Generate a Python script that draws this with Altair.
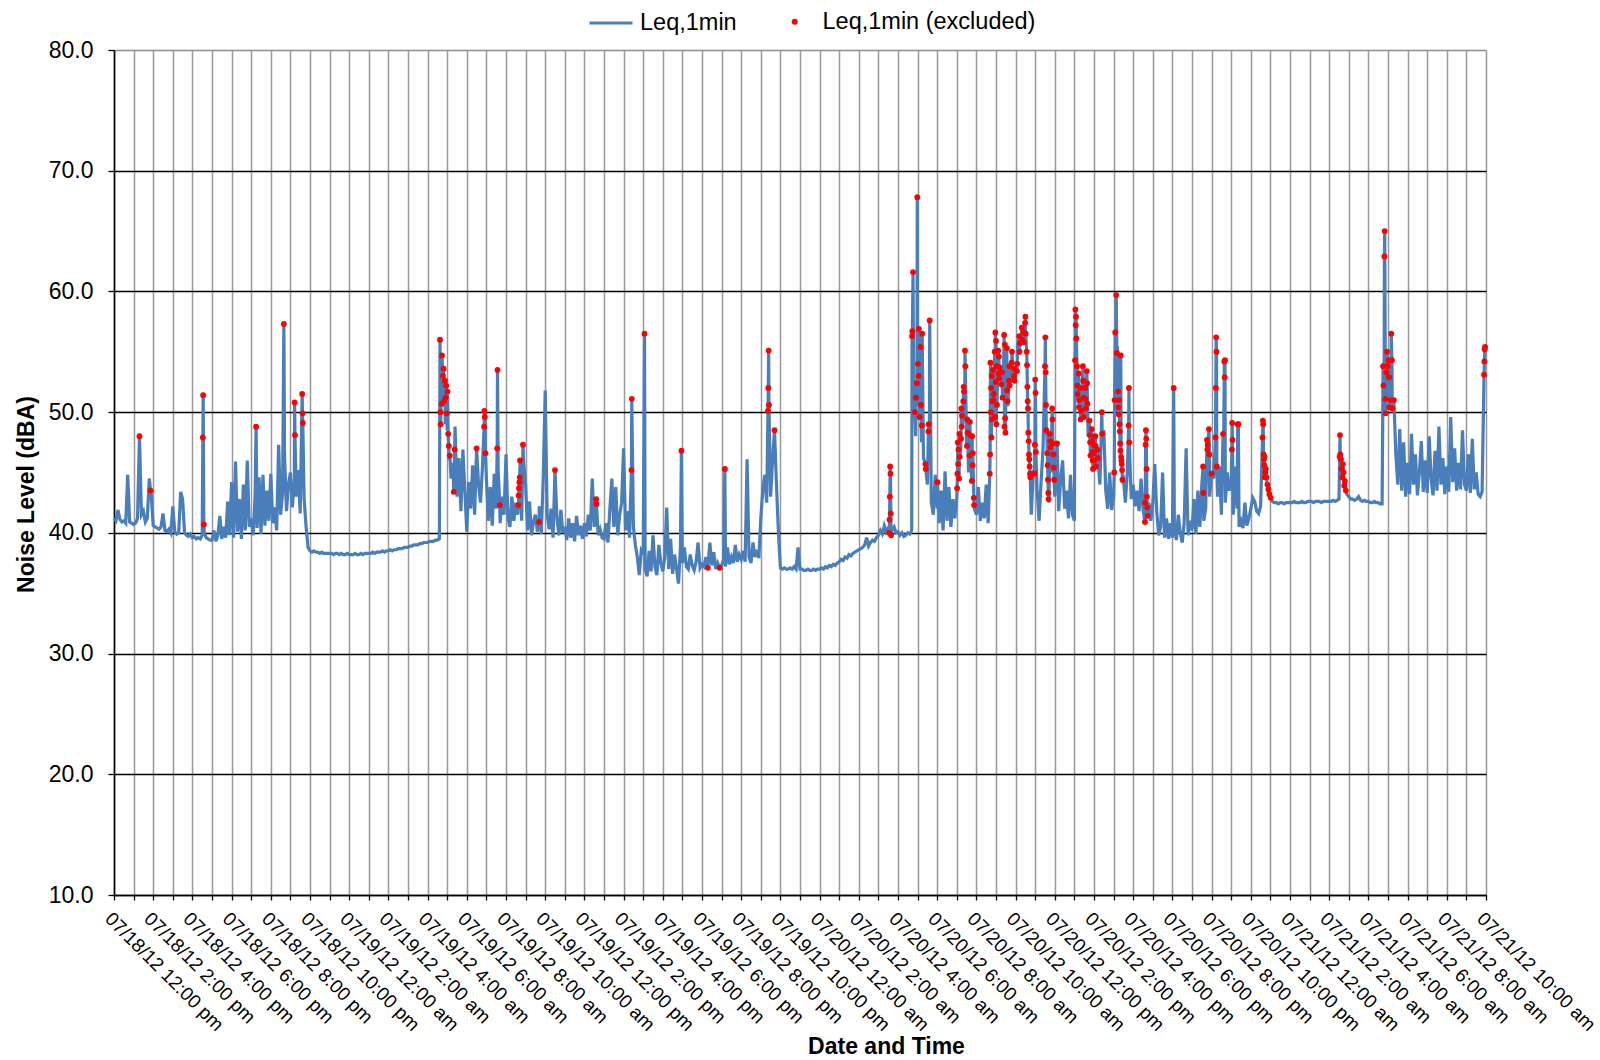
import altair as alt
import pandas as pd
from datetime import datetime, timedelta

FONT = "Liberation Sans"
LINE_BLUE = "#4a7ebb"
DOT_RED = "#ff0000"

# Leq,1min readings, one value every 6 minutes starting 07/18/12 12:00 pm
# (one row per hour)
STEP_MIN = 6

LEQ_0718 = [
    41.2, 41.0, 41.9, 41.1, 40.9, 41.0, 40.8, 44.8, 40.9, 40.8,
    40.7, 40.8, 41.2, 40.6, 41.5, 41.8, 40.9, 41.2, 44.5, 43.2,
    40.6, 40.5, 40.4, 40.3, 40.5, 41.6, 40.2, 40.1, 40.3, 40.0,
    42.2, 40.1, 39.9, 40.0, 43.4, 42.8, 40.0, 39.8, 39.7, 39.9,
    39.6, 39.7, 39.5, 39.6, 39.5, 39.8, 40.1, 39.6, 39.5, 39.4,
    39.4, 40.2, 39.3, 39.8, 41.4, 39.5, 40.5, 39.6, 42.6, 39.8,
    44.2, 39.6, 45.9, 40.1, 42.8, 39.5, 44.0, 40.2, 46.0, 40.5,
    41.2, 39.8, 43.1, 40.4, 44.6, 39.9, 44.8, 40.6, 43.5, 41.0,
    44.9, 40.8, 42.1, 40.2, 47.3, 41.5, 43.2, 46.5, 41.8, 44.0,
    45.0, 42.1, 44.3, 43.0, 45.2, 41.6, 46.7, 42.8, 40.5, 38.8,
    38.5, 38.4, 38.5, 38.4, 38.4, 38.3, 38.4, 38.3, 38.3, 38.3,
    38.3, 38.3, 38.2, 38.3, 38.3, 38.2, 38.3, 38.2, 38.2, 38.3,
]

LEQ_0719 = [
    38.2, 38.2, 38.2, 38.3, 38.2, 38.2, 38.3, 38.2, 38.3, 38.3,
    38.3, 38.3, 38.4, 38.3, 38.4, 38.4, 38.4, 38.5, 38.4, 38.5,
    38.5, 38.6, 38.5, 38.6, 38.6, 38.7, 38.7, 38.7, 38.8, 38.8,
    38.8, 38.9, 38.9, 39.0, 39.0, 39.0, 39.1, 39.1, 39.2, 39.2,
    39.2, 39.3, 39.3, 39.3, 39.4, 39.4, 39.5, 52.0, 50.5, 49.0,
    48.5, 46.0, 44.5, 45.8, 48.8, 43.0, 46.2, 41.8, 46.9, 43.5,
    40.1, 44.2, 42.0, 45.6, 41.5, 42.8, 44.0, 42.5, 45.5, 47.8,
    44.5, 41.0, 43.8, 40.6, 44.9, 42.0, 45.2, 40.8, 43.0, 41.5,
    46.5, 41.2, 40.5, 43.0, 41.0, 42.5, 41.5, 44.2, 41.0, 45.8,
    44.0, 40.2, 42.6, 39.8, 40.9, 41.5, 40.1, 42.2, 39.9, 44.5,
    51.8, 41.5, 40.3, 42.0, 39.6, 40.8, 41.2, 39.8, 41.9, 40.0,
    40.5, 39.4, 41.2, 39.6, 40.8, 39.3, 41.4, 39.8, 40.6, 39.5,
    40.8, 39.7, 41.5, 40.2, 44.5, 40.5, 41.0, 39.8, 40.3, 39.6,
    39.5, 40.8, 39.2, 42.0, 44.5, 40.5, 43.8, 39.8, 41.5, 42.5,
    47.0, 40.2, 41.8, 39.6, 43.0, 40.5, 39.0, 38.0, 36.5, 38.5,
    38.2, 37.0, 36.4, 38.5, 36.8, 39.8, 37.2, 36.5, 39.0, 37.5,
    36.8, 38.0, 42.1, 37.0, 39.5, 36.6, 38.2, 37.0, 35.8, 38.8,
    37.5, 38.8, 37.2, 37.0, 38.2, 37.3, 36.9, 37.6, 39.2, 37.1,
    37.4, 37.2, 38.0, 37.1, 39.2, 37.3, 38.4, 37.0, 37.5, 37.2,
    37.3, 37.8, 37.2, 38.8, 37.4, 38.0, 37.5, 39.0, 37.6, 38.2,
    37.8, 38.5, 37.6, 46.1, 38.0, 37.5, 39.2, 38.0, 38.6, 37.9,
    41.2, 43.5, 44.8, 42.5, 45.5, 43.0, 46.0, 44.2, 44.0, 40.0,
    37.1, 37.0, 37.1, 37.0, 37.0, 37.1, 37.0, 37.2, 37.0, 38.8,
    37.0, 37.0, 36.9, 36.9, 37.0, 36.9, 36.9, 37.0, 36.9, 37.0,
]

LEQ_0720 = [
    37.0, 37.1, 37.0, 37.2, 37.1, 37.3, 37.2, 37.4, 37.3, 37.5,
    37.6, 37.8, 37.7, 38.0, 37.9, 38.2, 38.1, 38.3, 38.4, 38.5,
    38.6, 38.7, 38.8, 39.0, 39.6, 38.9, 39.2, 39.4, 39.3, 39.6,
    39.8, 40.2, 39.9, 40.6, 40.1, 40.4, 40.0, 40.3, 40.5, 40.0,
    40.1, 39.8, 40.0, 39.7, 39.8, 40.0, 39.9, 40.2, 50.5, 48.0,
    50.5, 50.0, 47.5, 46.2, 45.0, 44.0, 46.0, 42.5, 41.5, 44.8,
    42.0, 40.8, 43.5, 40.2, 45.1, 41.0, 43.8, 40.5, 42.8, 41.2,
    43.0, 45.0, 47.0, 49.0, 50.0, 47.5, 45.0, 46.5, 43.0, 42.0,
    41.5, 43.8, 41.0, 42.5, 41.2, 44.0, 40.8, 43.5, 49.0, 53.0,
    52.0, 54.0, 53.0, 51.0, 55.0, 52.0, 50.5, 53.5, 54.5, 52.5,
    53.0, 55.5, 54.0, 56.0, 55.0, 56.5, 51.5, 44.0, 41.5, 45.0,
    45.0, 43.5, 41.0, 44.2, 47.0, 50.0, 48.0, 42.5, 45.0, 48.0,
    43.0, 46.5, 41.8, 44.5, 46.0, 42.0, 43.5, 41.2, 44.8, 41.5,
    41.0, 52.5, 51.0, 50.5, 52.0, 51.5, 50.5, 48.0, 47.0, 48.5,
    46.0, 47.0, 45.0, 44.0, 46.5, 48.5, 43.5, 42.0, 45.0, 41.9,
    43.0, 50.0, 55.0, 50.0, 47.0, 44.5, 42.5, 45.0, 43.0, 42.8,
    44.0, 42.2, 43.5, 41.8, 44.5, 42.0, 43.0, 41.5, 42.5, 41.0,
    42.5, 45.7, 41.8, 39.8, 40.5, 45.0, 39.6, 41.2, 39.5, 40.8,
    39.6, 40.5, 39.4, 41.5, 40.0, 39.2, 40.8, 47.0, 39.8, 41.0,
    40.2, 42.8, 39.9, 43.5, 40.5, 44.0, 41.0, 42.0, 45.5, 43.0,
    42.0, 44.5, 46.0, 43.0, 45.5, 41.5, 44.0, 42.5, 45.0, 43.5,
    44.0, 41.5, 45.5, 42.0, 40.5, 41.0, 40.4, 42.5, 40.6, 41.2,
    42.0, 42.9, 42.6, 41.8, 41.6, 42.2, 46.0, 44.0, 43.5, 43.0,
    42.8, 42.6, 42.5, 42.5, 42.4, 42.5, 42.5, 42.4, 42.5, 42.5,
]

LEQ_0721 = [
    42.5, 42.5, 42.6, 42.5, 42.5, 42.5, 42.6, 42.5, 42.5, 42.6,
    42.6, 42.6, 42.5, 42.6, 42.6, 42.6, 42.5, 42.6, 42.6, 42.6,
    42.6, 42.6, 42.7, 42.6, 42.7, 42.8, 43.0, 44.0, 44.5, 43.2,
    43.0, 42.8, 42.8, 42.7, 42.8, 43.0, 42.7, 42.6, 42.7, 42.6,
    42.6, 42.5, 42.5, 42.6, 42.5, 42.5, 42.4, 42.4, 50.0, 51.5,
    52.0, 51.0, 47.5, 48.0, 46.5, 44.0, 48.6, 43.5, 47.5, 43.0,
    45.8, 43.2, 48.2, 44.0, 46.5, 43.1, 45.0, 47.6, 43.4, 46.0,
    43.3, 48.0, 44.5, 43.1, 46.8, 43.5, 48.8, 44.0, 46.2, 43.2,
    45.5, 43.4, 49.6, 44.2, 47.0, 43.5, 45.8, 43.6, 48.5, 44.0,
    43.5, 46.5, 43.3, 47.8, 43.6, 45.0, 43.2, 43.0, 43.4, 45.0,
]

# Excluded Leq,1min readings: (minutes after 07/18/12 12:00 pm, dBA)
EXCLUDED_0718 = [
    (78, 48.0), (112, 43.5), (272, 47.9), (273, 51.4), (275, 40.7),
    (435, 48.8), (520, 57.3), (553, 50.8), (554, 48.1),
    (576, 51.5), (577, 49.9), (578, 49.1),
]

EXCLUDED_0719 = [
    (998, 56.0), (999, 50.0), (1000, 49.0), (1003, 50.7), (1004, 54.7),
    (1007, 53.0), (1009, 53.6), (1011, 50.9), (1013, 52.6), (1015, 51.2),
    (1017, 52.2), (1019, 49.9), (1021, 51.7), (1023, 48.2), (1025, 47.2),
    (1028, 46.4), (1040, 43.4), (1043, 46.9),
    (1110, 47.0), (1133, 48.8), (1134, 50.1), (1135, 49.6), (1137, 46.6),
    (1173, 47.0), (1174, 53.5), (1181, 42.3),
    (1238, 42.3), (1239, 43.1), (1240, 43.7), (1241, 44.2), (1242, 44.6),
    (1243, 46.0), (1252, 47.3), (1301, 40.9), (1350, 45.2),
    (1476, 42.8), (1477, 42.4), (1584, 45.2), (1585, 51.1), (1624, 56.5),
    (1737, 46.8), (1818, 37.1), (1854, 37.1), (1870, 45.3),
    (2002, 50.1), (2003, 52.0), (2004, 55.1), (2005, 50.6), (2022, 48.5),
]

EXCLUDED_0720 = [
    (2373, 40.0), (2374, 41.1), (2375, 43.0), (2376, 45.5), (2377, 44.9),
    (2378, 41.6), (2379, 39.8),
    (2443, 56.3), (2444, 56.7), (2446, 61.6), (2452, 50.0), (2455, 51.2),
    (2458, 52.4), (2459, 67.8), (2461, 54.0), (2463, 53.0), (2464, 56.9),
    (2466, 49.6), (2469, 55.4), (2470, 50.6), (2473, 48.9), (2474, 56.5),
    (2484, 45.7), (2485, 45.3), (2493, 48.4), (2494, 49.0), (2497, 57.6),
    (2521, 44.2),
    (2581, 43.7), (2582, 44.9), (2583, 47.5), (2584, 45.7), (2585, 46.9),
    (2587, 44.5), (2588, 48.2), (2589, 46.3), (2593, 47.8), (2594, 50.3),
    (2595, 48.8), (2596, 49.7), (2600, 50.9), (2601, 52.1), (2602, 51.7),
    (2605, 55.1), (2606, 53.8), (2611, 47.2), (2612, 49.4), (2613, 48.3),
    (2619, 46.4), (2620, 49.2), (2621, 48.1), (2626, 44.3), (2627, 48.0),
    (2628, 45.6), (2629, 46.6), (2632, 42.9), (2633, 42.3),
    (2681, 44.9), (2682, 46.5), (2683, 54.1), (2684, 50.0), (2685, 52.0),
    (2686, 47.9), (2687, 53.0), (2688, 49.4), (2689, 50.9), (2691, 53.5),
    (2692, 51.0), (2693, 51.5), (2696, 55.0), (2697, 49.6), (2698, 56.6),
    (2699, 52.5), (2700, 55.9), (2701, 49.0), (2702, 53.8), (2703, 50.6),
    (2707, 55.1), (2708, 53.2), (2709, 54.6), (2710, 52.8), (2711, 53.7),
    (2717, 52.3), (2718, 53.3), (2720, 51.2), (2725, 56.4), (2726, 48.8),
    (2727, 55.6), (2728, 49.5), (2729, 48.3), (2733, 55.3), (2734, 51.8),
    (2735, 50.9), (2740, 52.6), (2741, 53.8), (2742, 52.2), (2748, 54.1),
    (2749, 55.0), (2755, 53.0), (2756, 53.6), (2757, 52.6), (2764, 53.4),
    (2765, 54.0), (2771, 56.3), (2772, 55.0), (2773, 55.7), (2779, 57.0),
    (2780, 56.0), (2784, 56.6), (2785, 55.8), (2789, 57.4), (2790, 57.9),
    (2791, 56.5), (2794, 55.0), (2795, 53.9), (2796, 52.1), (2797, 50.9),
    (2798, 50.3), (2799, 48.3), (2800, 47.6), (2801, 46.5), (2802, 46.1),
    (2803, 45.5), (2804, 44.9), (2805, 44.6),
    (2818, 44.9), (2819, 47.3), (2820, 52.7), (2821, 51.6), (2822, 46.7),
    (2850, 53.8), (2851, 56.2), (2852, 53.3), (2853, 50.6), (2854, 48.5),
    (2857, 46.6), (2858, 45.6), (2859, 44.4), (2860, 43.3), (2861, 42.8),
    (2865, 48.2), (2866, 47.6), (2867, 47.1), (2872, 50.3), (2873, 49.4),
    (2874, 47.4), (2876, 46.5), (2877, 45.4), (2878, 44.4), (2887, 47.4),
    (2942, 54.3), (2943, 58.5), (2944, 57.2), (2945, 57.9), (2946, 56.1),
    (2948, 53.8), (2949, 52.2), (2950, 51.5), (2953, 53.2), (2954, 50.4),
    (2955, 51.0), (2958, 52.0), (2959, 49.4), (2960, 50.1), (2966, 53.8),
    (2967, 52.6), (2968, 51.2), (2969, 49.6), (2973, 52.0), (2974, 51.1),
    (2975, 50.3), (2978, 53.4), (2979, 52.4), (2980, 50.7), (2986, 49.3),
    (2987, 48.1), (2988, 47.5), (2989, 46.4), (2993, 48.6), (2994, 47.6),
    (2995, 46.7), (2996, 46.0), (2997, 45.3), (2999, 47.3), (3000, 46.6),
    (3001, 46.0), (3004, 48.0), (3005, 47.2), (3006, 45.5), (3011, 46.9),
    (3012, 46.2), (3024, 50.0), (3025, 48.2),
    (3062, 45.0), (3063, 51.0), (3065, 56.6), (3068, 59.7), (3070, 54.9),
    (3074, 51.7), (3075, 50.4), (3076, 49.8), (3077, 51.0), (3078, 49.0),
    (3079, 48.4), (3080, 47.4), (3081, 46.8), (3082, 54.7), (3083, 46.3),
    (3084, 46.0), (3085, 45.7), (3086, 45.2), (3087, 44.4),
    (3106, 48.9), (3107, 52.0), (3108, 47.5),
    (3156, 40.9), (3157, 42.5), (3158, 47.3), (3159, 48.5), (3160, 47.8),
    (3161, 45.3), (3162, 43.0), (3163, 42.1), (3164, 41.4),
    (3244, 52.0),
    (3334, 45.5), (3335, 43.3), (3346, 47.7), (3347, 46.9), (3348, 47.3),
    (3352, 48.6), (3353, 46.5), (3360, 44.9),
    (3372, 47.9), (3373, 52.0), (3374, 56.2), (3375, 55.0), (3376, 45.5),
    (3395, 48.2), (3399, 54.2), (3400, 52.9), (3401, 54.3),
    (3422, 46.9), (3423, 49.1), (3424, 47.7), (3440, 49.0), (3442, 49.0),
    (3516, 47.9), (3517, 49.3), (3518, 49.0), (3519, 46.5), (3520, 46.1),
    (3521, 45.6), (3522, 46.3), (3523, 44.6), (3524, 45.0), (3526, 45.3),
    (3528, 44.6), (3531, 44.0), (3534, 43.6), (3537, 43.2), (3541, 42.9),
]

EXCLUDED_0721 = [
    (3752, 46.3), (3753, 48.1), (3754, 46.5), (3756, 46.1), (3758, 45.3),
    (3760, 44.6), (3762, 45.7), (3764, 45.0), (3766, 43.9), (3768, 44.3),
    (3771, 43.5),
    (3885, 53.8), (3886, 52.2), (3889, 62.9), (3890, 65.0), (3892, 51.1),
    (3893, 49.9), (3895, 53.3), (3897, 55.0), (3899, 53.8), (3902, 54.3),
    (3903, 52.9), (3904, 50.4), (3908, 51.0), (3910, 56.5), (3912, 54.3),
    (3913, 50.3), (3918, 51.0),
    (4194, 53.1), (4195, 54.2), (4196, 55.2), (4197, 55.4),
]

# Hourly ticks from 07/18/12 12:00 pm to 07/21/12 10:00 am, labelled every 2 h
START = datetime(2012, 7, 18, 12, 0)
N_HOURS = 70


def fmt_label(t):
    hour12 = t.hour % 12 or 12
    ampm = "am" if t.hour < 12 else "pm"
    return f"{t:%m/%d/%y} {hour12}:{t:%M} {ampm}"


TICK_LABELS = [fmt_label(START + timedelta(hours=h)) for h in range(0, N_HOURS + 1, 2)]

# ---- assemble the tables -------------------------------------------------
leq = LEQ_0718 + LEQ_0719 + LEQ_0720 + LEQ_0721
excluded = EXCLUDED_0718 + EXCLUDED_0719 + EXCLUDED_0720 + EXCLUDED_0721

readings = {i * STEP_MIN: v for i, v in enumerate(leq)}
for minute, v in excluded:
    readings[minute] = v

line_df = pd.DataFrame(
    [{"hour": m / 60.0, "db": v, "series": "Leq,1min"} for m, v in sorted(readings.items())]
)
excl_df = pd.DataFrame(
    [{"hour": m / 60.0, "db": v, "kind": "Leq,1min (excluded)"} for m, v in excluded]
)

label_array = "[" + ",".join("'" + s + "'" for s in TICK_LABELS) + "]"
x_label_expr = f"datum.value % 2 == 0 ? {label_array}[datum.value / 2] : ''"

x_enc = alt.X(
    "hour:Q",
    scale=alt.Scale(domain=[0, N_HOURS], nice=False, zero=False),
    axis=alt.Axis(
        values=list(range(N_HOURS + 1)),
        labelExpr=x_label_expr,
        labelAngle=45,
        labelAlign="left",
        labelBaseline="top",
        labelFont=FONT,
        labelFontSize=19,
        labelColor="black",
        labelPadding=9,
        labelOverlap=False,
        labelFlush=False,
        labelBound=False,
        tickSize=5,
        tickColor="black",
        tickWidth=1.3,
        domainColor="black",
        domainWidth=1.6,
        grid=True,
        gridColor="#999999",
        gridWidth=1.5,
        title="Date and Time",
        titleFont=FONT,
        titleFontSize=23,
        titleFontWeight="bold",
        titleColor="black",
        titleX=772,
        titleY=151,
        titleAlign="center",
        titleBaseline="middle",
    ),
)

y_enc = alt.Y(
    "db:Q",
    scale=alt.Scale(domain=[10, 80], nice=False, zero=False),
    axis=alt.Axis(
        values=[10, 20, 30, 40, 50, 60, 70, 80],
        format=".1f",
        labelFont=FONT,
        labelFontSize=23,
        labelColor="black",
        labelPadding=15,
        tickSize=6,
        tickColor="black",
        tickWidth=1.3,
        domainColor="black",
        domainWidth=1.6,
        grid=True,
        gridColor={"condition": {"test": "datum.value == 80", "value": "#8c8c8c"}, "value": "#000000"},
        gridWidth=1.6,
        title="Noise Level (dBA)",
        titleFont=FONT,
        titleFontSize=23,
        titleFontWeight="bold",
        titleColor="black",
        titleX=-88,
        titleY=444,
        titleAngle=-90,
        titleAlign="center",
        titleBaseline="middle",
    ),
)

line = (
    alt.Chart(line_df)
    .mark_line(strokeWidth=3.2, interpolate="linear")
    .encode(
        x=x_enc,
        y=y_enc,
        color=alt.Color(
            "series:N",
            scale=alt.Scale(domain=["Leq,1min"], range=[LINE_BLUE]),
            legend=alt.Legend(
                title=None,
                orient="none",
                legendX=474,
                legendY=-50,
                symbolType="stroke",
                symbolSize=1849,
                symbolStrokeWidth=3,
                labelFont=FONT,
                labelFontSize=23.5,
                labelColor="black",
                labelOffset=6,
                labelLimit=0,
                padding=0,
            ),
        ),
    )
)

dots = (
    alt.Chart(excl_df)
    .mark_circle(size=34, opacity=1)
    .encode(
        x=x_enc,
        y=y_enc,
        fill=alt.Fill(
            "kind:N",
            scale=alt.Scale(domain=["Leq,1min (excluded)"], range=[DOT_RED]),
            legend=alt.Legend(
                title=None,
                orient="none",
                legendX=669,
                legendY=-40,
                symbolType="circle",
                symbolSize=36,
                symbolOpacity=1,
                symbolStrokeWidth=0,
                labelFont=FONT,
                labelFontSize=23.5,
                labelColor="black",
                labelOffset=16,
                labelLimit=0,
                padding=0,
            ),
        ),
    )
)

chart = (
    alt.layer(line, dots)
    .properties(
        width=1372,
        height=845,
        autosize=alt.AutoSizeParams(type="none"),
        padding={"left": 114, "top": 50, "right": 114, "bottom": 165},
        background="white",
    )
    .configure_view(stroke=None)
)

chart.save("out.html", embed_options={"renderer": "svg", "actions": False})
